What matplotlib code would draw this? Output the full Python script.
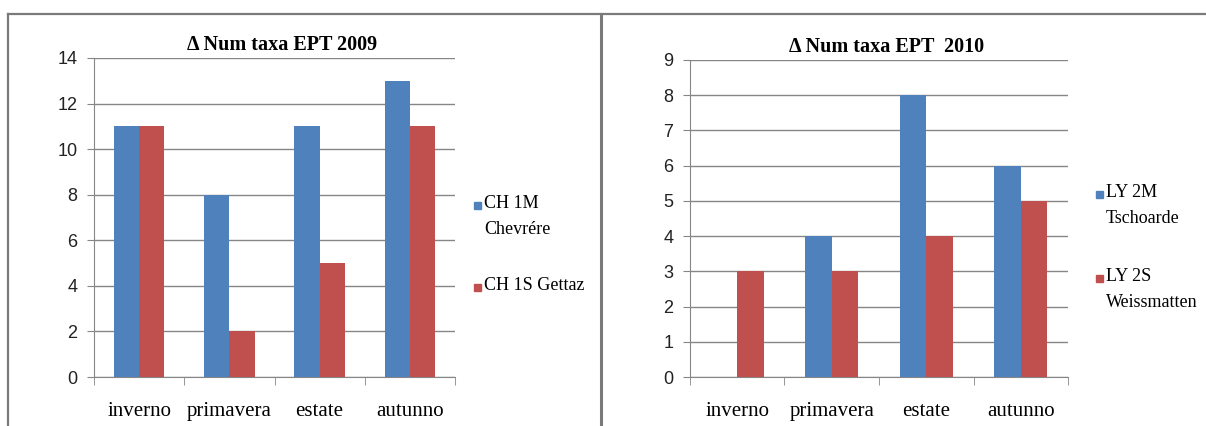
import matplotlib.pyplot as plt
import numpy as np
from matplotlib.lines import Line2D
from matplotlib.patches import Rectangle

# dati
stagioni = ['inverno', 'primavera', 'estate', 'autunno']

titolo_2009 = '\u0394 Num taxa EPT 2009'
nomi_2009 = ['CH 1M\nChevrére', 'CH 1S Gettaz']
ch_1m = [11, 8, 11, 13]
ch_1s = [11, 2, 5, 11]

titolo_2010 = '\u0394 Num taxa EPT  2010'
nomi_2010 = ['LY 2M\nTschoarde', 'LY 2S\nWeissmatten']
ly_2m = [0, 4, 8, 6]
ly_2s = [3, 3, 4, 5]

BLU = '#4F81BD'
ROSSO = '#C0504D'
GRIGIO = '#868686'
SERIF = ['Liberation Serif', 'DejaVu Serif']
SANS = ['Liberation Sans Narrow', 'Liberation Sans', 'DejaVu Sans']

W, H = 1206, 426
fig = plt.figure(figsize=(W / 100, H / 100), dpi=100)
fig.patch.set_facecolor('white')


def px(x0, y0, x1, y1):
    # rettangolo in pixel (origine in alto a sinistra) -> coordinate figura
    return [x0 / W, 1 - y1 / H, (x1 - x0) / W, (y1 - y0) / H]


def legenda(nomi, colori, x, y_voci):
    # legenda in stile Excel: quadratino + testo, a coordinate pixel
    for nome, col, y in zip(nomi, colori, y_voci):
        fig.add_artist(Rectangle(((x - 4) / W, 1 - (y + 4) / H), 7 / W, 7 / H,
                                 color=col, transform=fig.transFigure))
        fig.text((x + 6) / W, 1 - (y - 10) / H, nome, va='top', ha='left',
                 family=SERIF, fontsize=13, linespacing=1.7)


def grafico(rect, titolo, nomi, serie1, serie2, ymax):
    ax = fig.add_axes(px(*rect))
    x = np.arange(len(stagioni))
    w = 0.28
    ax.bar(x - w / 2, serie1, w, color=BLU, zorder=3)
    ax.bar(x + w / 2, serie2, w, color=ROSSO, zorder=3)
    ax.set_xlim(-0.5, len(stagioni) - 0.5)
    ax.set_ylim(0, ymax)
    ax.set_yticks(range(0, ymax + 1, 2 if ymax > 10 else 1))
    ax.yaxis.grid(True, color=GRIGIO, lw=1, zorder=0)
    ax.set_axisbelow(True)
    for s in ['top', 'right']:
        ax.spines[s].set_visible(False)
    for s in ['left', 'bottom']:
        ax.spines[s].set_color(GRIGIO)
    ax.set_xticks(x)
    ax.set_xticklabels(stagioni, fontsize=15, family=SERIF)
    ax.set_xticks(np.arange(-0.5, len(stagioni)), minor=True)
    ax.tick_params(axis='x', which='major', length=0, pad=18)
    ax.tick_params(axis='x', which='minor', length=6, color=GRIGIO, direction='out')
    ax.tick_params(axis='y', length=5, color=GRIGIO, direction='out', pad=7,
                   labelsize=13)
    for t in ax.get_yticklabels():
        t.set_family(SANS)
        t.set_color('#222222')
    ax.set_title(titolo, fontsize=14.5, fontweight='bold', family=SERIF, pad=6,
                 x=0.5 + 8 / (rect[2] - rect[0]))
    return ax


grafico((94, 58, 455, 377), titolo_2009, nomi_2009, ch_1m, ch_1s, 14)
legenda(nomi_2009, [BLU, ROSSO], 478, [205, 287])

grafico((690, 60, 1068, 377), titolo_2010, nomi_2010, ly_2m, ly_2s, 9)
legenda(nomi_2010, [BLU, ROSSO], 1100, [194, 278])

# cornici dei due pannelli
bordo = dict(color='#7a7a7a', lw=1.6, transform=fig.transFigure)
fig.add_artist(Line2D([8 / W, 1], [1 - 14 / H] * 2, **bordo))
fig.add_artist(Line2D([8 / W] * 2, [0, 1 - 14 / H], **bordo))
fig.add_artist(Line2D([600.5 / W] * 2, [0, 1 - 14 / H], lw=2.2, color='#7a7a7a',
                      transform=fig.transFigure))

fig.savefig('out.png', dpi=100, facecolor='white')
